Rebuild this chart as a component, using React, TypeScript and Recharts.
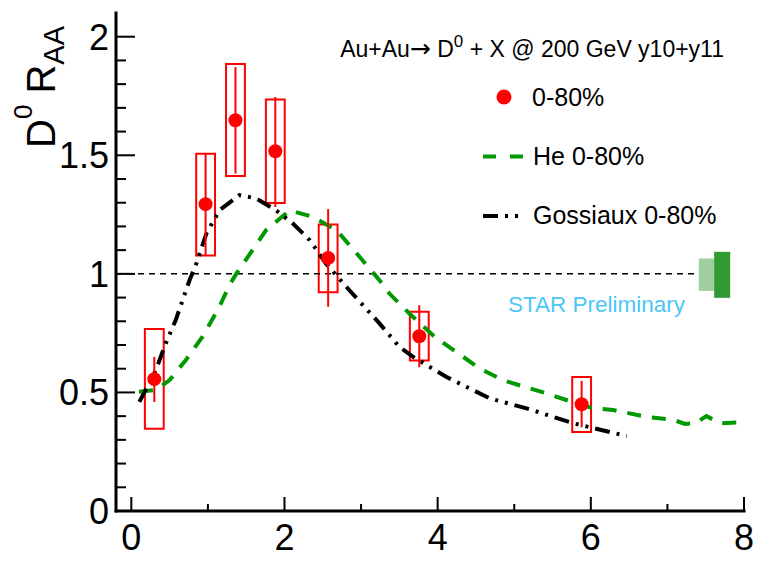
import React from 'react';
import {
  ComposedChart,
  XAxis,
  YAxis,
  Line,
  Scatter,
  ErrorBar,
  ReferenceArea,
  ReferenceLine,
} from 'recharts';

// ---------- data ----------
const ptX = [0.3, 0.97, 1.36, 1.88, 2.57, 3.76, 5.88];
const ptY = [0.556, 1.294, 1.648, 1.517, 1.067, 0.737, 0.45];
const statLo = [0.46, 1.075, 1.423, 1.282, 0.861, 0.606, 0.353];
const statHi = [0.65, 1.51, 1.872, 1.746, 1.273, 0.868, 0.549];
const sysLo = [0.347, 1.077, 1.413, 1.299, 0.922, 0.635, 0.333];
const sysHi = [0.767, 1.507, 1.885, 1.735, 1.208, 0.84, 0.565];
const sysHalfWidth = 0.123;

const heX = [0.1, 0.32, 0.5, 0.71, 0.93, 1.15, 1.28, 1.37, 1.76, 2.07, 2.37, 2.68, 2.98, 3.24, 3.37, 3.63, 3.96, 4.24, 4.55, 4.85, 5.16, 5.42, 5.68, 6.03, 6.29, 6.73, 7.08, 7.23, 7.36, 7.51, 7.69, 7.84, 7.95];
const heY = [0.503, 0.51, 0.552, 0.636, 0.735, 0.861, 0.952, 1.0, 1.184, 1.268, 1.24, 1.184, 1.072, 0.973, 0.917, 0.833, 0.735, 0.671, 0.601, 0.552, 0.521, 0.496, 0.468, 0.433, 0.426, 0.397, 0.384, 0.367, 0.37, 0.4, 0.37, 0.372, 0.374];

const goX = [0.105, 0.32, 0.45, 0.58, 0.76, 0.85, 0.98, 1.15, 1.41, 1.63, 1.89, 2.11, 2.33, 2.54, 2.85, 3.24, 3.5, 3.68, 4.11, 4.68, 5.16, 5.77, 6.47];
const goY = [0.46, 0.594, 0.707, 0.805, 0.973, 1.044, 1.17, 1.268, 1.332, 1.318, 1.268, 1.212, 1.142, 1.044, 0.93, 0.791, 0.692, 0.65, 0.566, 0.475, 0.433, 0.37, 0.316];

// normalization uncertainty boxes around unity
const normX1 = [7.41, 7.61];
const normX2 = [7.61, 7.82];
const normLo = [0.928, 0.899];
const normHi = [1.065, 1.093];
const normColors = ['#9fcf9f', '#339933'];

const unityLine = 1;
const unityEndX = 7.4;

const xDomain = [-0.2, 8];
const yDomain = [0, 2.1];
const xTicks = [0, 1, 2, 3, 4, 5, 6, 7, 8];
const xMajor = [0, 2, 4, 6, 8];
const xLabels = ['0', '2', '4', '6', '8'];
const yTicks = [0, 0.1, 0.2, 0.3, 0.4, 0.5, 0.6, 0.7, 0.8, 0.9, 1, 1.1, 1.2, 1.3, 1.4, 1.5, 1.6, 1.7, 1.8, 1.9, 2];
const yMajor = [0, 0.5, 1, 1.5, 2];
const yLabels = ['0', '0.5', '1', '1.5', '2'];

const FONT = '"Liberation Sans", Arial, Helvetica, sans-serif';
const RED = '#ff0000';
const GREEN = '#009900';

const pointData = ptX.map((x, i) => ({
  x,
  y: ptY[i],
  err: [ptY[i] - statLo[i], statHi[i] - ptY[i]],
}));
const heData = heX.map((x, i) => ({ x, y: heY[i] }));
const goData = goX.map((x, i) => ({ x, y: goY[i] }));

const findIdx = (arr: number[], v: number) => arr.findIndex((a) => Math.abs(a - v) < 1e-6);

const BottomTick = (props: any) => {
  const { x, y, payload } = props;
  const idx = findIdx(xMajor, payload.value);
  const major = idx >= 0;
  return (
    <g>
      <line x1={x} y1={y} x2={x} y2={y - (major ? 14 : 7)} stroke="#000" strokeWidth={2} />
      {major && (
        <text x={x} y={y + 39} textAnchor="middle" fontFamily={FONT} fontSize={36} fill="#000">
          {xLabels[idx]}
        </text>
      )}
    </g>
  );
};

const TopTick = (props: any) => {
  const { x, y } = props;
  return <line x1={x} y1={y} x2={x} y2={y + 7} stroke="#000" strokeWidth={2} />;
};

const LeftTick = (props: any) => {
  const { x, y, payload } = props;
  const idx = findIdx(yMajor, payload.value);
  const major = idx >= 0;
  return (
    <g>
      <line x1={x} y1={y} x2={x + (major ? 19 : 10)} y2={y} stroke="#000" strokeWidth={2} />
      {major && (
        <text x={x - 7} y={y + 13} textAnchor="end" fontFamily={FONT} fontSize={36} fill="#000">
          {yLabels[idx]}
        </text>
      )}
    </g>
  );
};

const RightTick = (props: any) => {
  const { x, y, payload } = props;
  const major = findIdx(yMajor, payload.value) >= 0;
  return <line x1={x} y1={y} x2={x - (major ? 17 : 8)} y2={y} stroke="#000" strokeWidth={2} />;
};

const PointShape = (props: any) => {
  const { cx, cy } = props;
  return <circle cx={cx} cy={cy} r={7} fill={RED} />;
};

const axisLineStyle = { stroke: '#000', strokeWidth: 3, strokeLinecap: 'square' as const };

export default function App() {
  return (
    <div style={{ position: 'absolute', left: 0, top: 0, width: 759, height: 563, background: '#fff' }}>
      <ComposedChart
        width={759}
        height={563}
        margin={{ top: 13, right: 15, bottom: 0, left: 0 }}
      >
        <XAxis
          dataKey="x"
          type="number"
          domain={xDomain}
          allowDataOverflow
          ticks={xTicks}
          interval={0}
          tickSize={0}
          tickMargin={0}
          height={52}
          axisLine={axisLineStyle}
          tickLine={false}
          tick={<BottomTick />}
        />
        <XAxis
          xAxisId="top"
          orientation="top"
          type="number"
          domain={xDomain}
          allowDataOverflow
          ticks={xTicks}
          interval={0}
          tickSize={0}
          tickMargin={0}
          height={0}
          axisLine={axisLineStyle}
          tickLine={false}
          tick={<TopTick />}
        />
        <YAxis
          type="number"
          domain={yDomain}
          allowDataOverflow
          ticks={yTicks}
          interval={0}
          tickSize={0}
          tickMargin={0}
          width={116}
          axisLine={axisLineStyle}
          tickLine={false}
          tick={<LeftTick />}
        />
        <YAxis
          yAxisId="right"
          orientation="right"
          type="number"
          domain={yDomain}
          allowDataOverflow
          ticks={yTicks}
          interval={0}
          tickSize={0}
          tickMargin={0}
          width={0}
          axisLine={axisLineStyle}
          tickLine={false}
          tick={<RightTick />}
        />

        <ReferenceLine
          segment={[
            { x: xDomain[0], y: unityLine },
            { x: unityEndX, y: unityLine },
          ]}
          stroke="#000"
          strokeWidth={1.5}
          strokeDasharray="6 5"
        />

        {normX1.map((x1, i) => (
          <ReferenceArea
            key={'n' + i}
            x1={x1}
            x2={normX2[i]}
            y1={normLo[i]}
            y2={normHi[i]}
            fill={normColors[i]}
            fillOpacity={1}
            stroke="none"
          />
        ))}

        {ptX.map((x, i) => (
          <ReferenceArea
            key={'s' + i}
            x1={x - sysHalfWidth}
            x2={x + sysHalfWidth}
            y1={sysLo[i]}
            y2={sysHi[i]}
            fill="none"
            fillOpacity={0}
            stroke={RED}
            strokeWidth={2}
          />
        ))}

        <Line
          data={heData}
          dataKey="y"
          type="linear"
          stroke={GREEN}
          strokeWidth={4}
          strokeDasharray="14 11"
          dot={false}
          activeDot={false}
          isAnimationActive={false}
        />
        <Line
          data={goData}
          dataKey="y"
          type="linear"
          stroke="#000"
          strokeWidth={4}
          strokeDasharray="15 7 3 7 3 7"
          dot={false}
          activeDot={false}
          isAnimationActive={false}
        />

        <Scatter data={pointData} dataKey="y" shape={<PointShape />} isAnimationActive={false}>
          <ErrorBar dataKey="err" direction="y" width={0} stroke={RED} strokeWidth={2} isAnimationActive={false} />
        </Scatter>
      </ComposedChart>

      <svg
        width={759}
        height={563}
        style={{ position: 'absolute', left: 0, top: 0, pointerEvents: 'none' }}
        fontFamily={FONT}
      >
        {/* y axis title */}
        <text transform="rotate(-90 55 148)" x={55} y={148} fontSize={40} fill="#000">
          <tspan>D</tspan>
          <tspan dy={-23} fontSize={26}>0</tspan>
          <tspan dy={23}> R</tspan>
          <tspan dy={9} fontSize={29}>AA</tspan>
        </text>

        {/* header */}
        <text x={724} y={57} textAnchor="end" fontSize={23} fill="#000">
          <tspan>Au+Au</tspan>
          <tspan fontFamily='"DejaVu Sans", sans-serif' fontSize={25}>→</tspan>
          <tspan> D</tspan>
          <tspan dy={-10} fontSize={17}>0</tspan>
          <tspan dy={10}> + X @ 200 GeV y10+y11</tspan>
        </text>

        {/* legend */}
        <circle cx={504} cy={97} r={7.5} fill={RED} />
        <text x={532} y={106} fontSize={25} fill="#000">0-80%</text>

        <line x1={483} y1={156.5} x2={524} y2={156.5} stroke={GREEN} strokeWidth={4} strokeDasharray="13 14" />
        <text x={533} y={165} fontSize={25} fill="#000">He 0-80%</text>

        <line x1={483} y1={216} x2={520} y2={216} stroke="#000" strokeWidth={4} strokeDasharray="15 7 3 7 3 7" />
        <text x={533} y={224} fontSize={25} fill="#000">Gossiaux 0-80%</text>

        <text x={508} y={312} fontSize={22.5} fill="#4dc6f7">STAR Preliminary</text>
      </svg>
    </div>
  );
}
